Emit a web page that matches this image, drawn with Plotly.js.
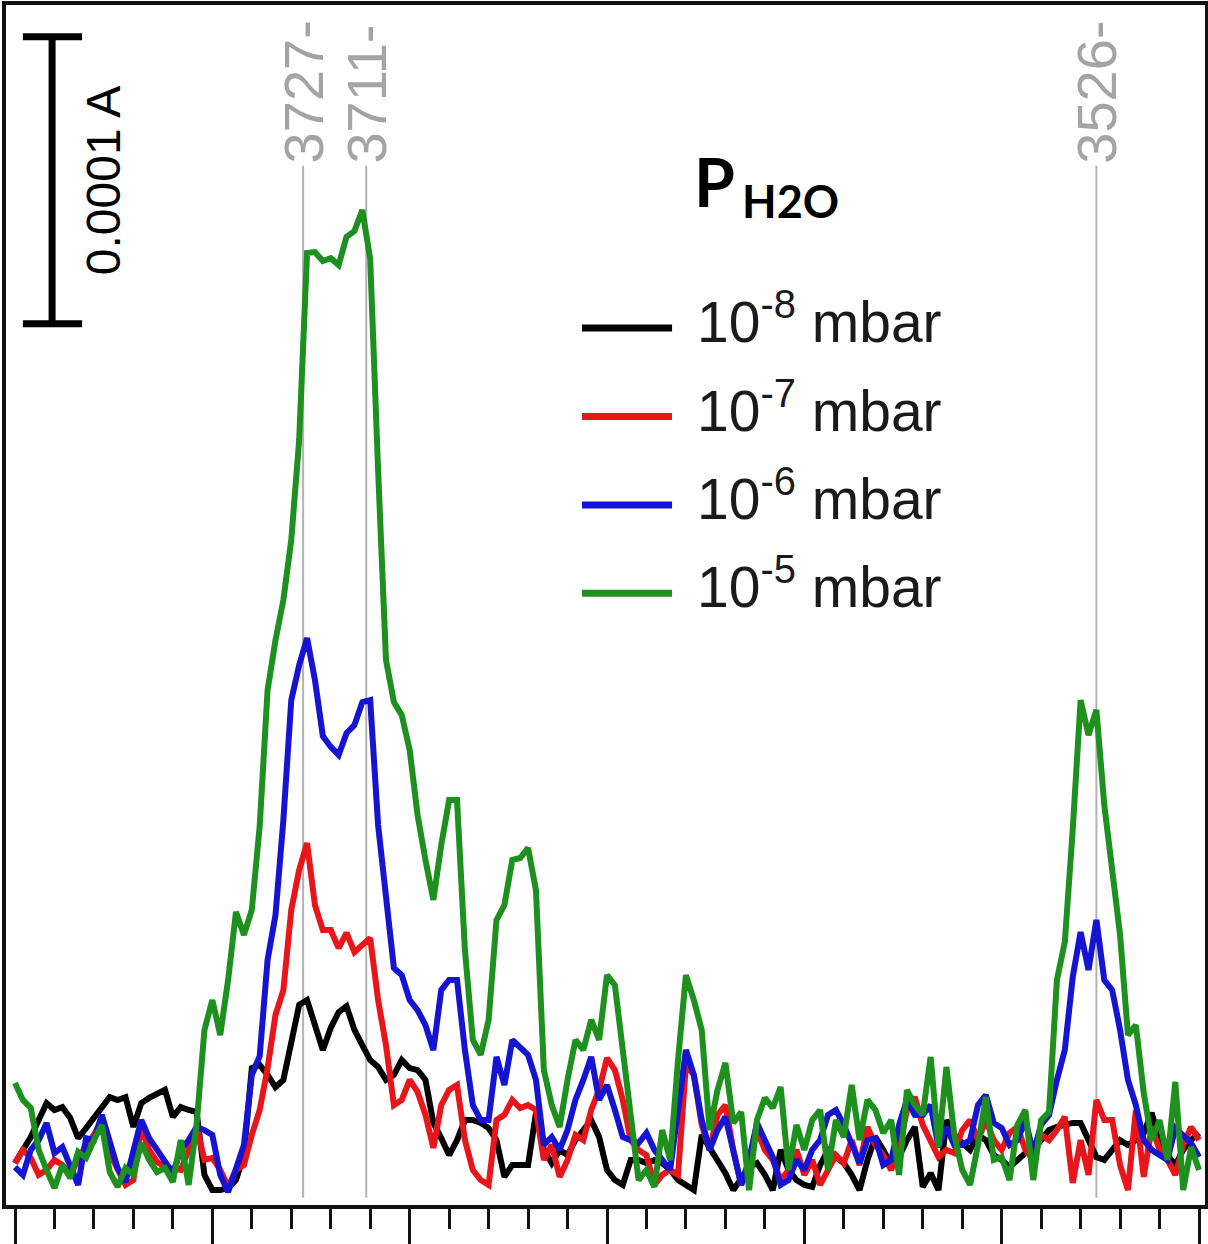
<!DOCTYPE html>
<html><head><meta charset="utf-8">
<script src="https://cdn.plot.ly/plotly-3.0.1.min.js"></script>
<style>html,body{margin:0;padding:0;background:#fff}#chart{width:1208px;height:1244px}</style>
</head><body><div id="chart"></div>
<script>
// Wavenumber (cm-1), decreasing left to right
const wavenumber = [3800,3798,3796,3794,3792,3790,3788,3786,3784,3782,
3780,3778,3776,3774,3772,3770,3768,3766,3764,3762,
3760,3758,3756,3754,3752,3750,3748,3746,3744,3742,
3740,3738,3736,3734,3732,3730,3728,3726,3724,3722,
3720,3718,3716,3714,3712,3710,3708,3706,3704,3702,
3700,3698,3696,3694,3692,3690,3688,3686,3684,3682,
3680,3678,3676,3674,3672,3670,3668,3666,3664,3662,
3660,3658,3656,3654,3652,3650,3648,3646,3644,3642,
3640,3638,3636,3634,3632,3630,3628,3626,3624,3622,
3620,3618,3616,3614,3612,3610,3608,3606,3604,3602,
3600,3598,3596,3594,3592,3590,3588,3586,3584,3582,
3580,3578,3576,3574,3572,3570,3568,3566,3564,3562,
3560,3558,3556,3554,3552,3550,3548,3546,3544,3542,
3540,3538,3536,3534,3532,3530,3528,3526,3524,3522,
3520,3518,3516,3514,3512,3510,3508,3506,3504,3502,
3500];

// Absorbance in units of 1e-6 A (scale bar = 100 units = 0.0001 A)
const abs_1e8 = [14.6,19.2,23.7,29.6,35.5,33.1,34.1,30.3,23.3,26.8,
30.3,33.8,37.6,36.6,37.6,27.2,35.5,37.3,39.0,40.1,
30.7,34.1,33.1,32.4,10.5,5.2,5.2,5.9,8.7,17.4,
47.7,48.8,45.3,41.1,43.6,57.5,69.7,71.4,62.7,54.0,
61.7,67.2,69.3,61.0,55.7,50.5,48.1,43.6,45.3,50.5,
47.7,47.0,43.6,28.6,23.3,17.4,22.6,29.6,29.6,28.6,
26.8,22.6,9.8,13.9,13.9,13.9,32.1,19.2,14.6,19.2,
17.4,22.6,26.1,29.6,23.7,12.2,8.7,7.0,15.7,15.7,
14.6,15.7,14.6,12.2,8.7,7.0,5.2,24.4,19.9,15.7,
11.1,5.2,9.4,13.2,14.6,10.5,5.2,19.2,12.2,8.7,
7.0,6.3,13.9,19.2,16.7,14.6,10.5,5.2,15.7,23.7,
19.2,13.9,16.7,22.6,27.2,6.3,11.1,5.2,29.6,24.4,
21.6,19.2,24.4,22.6,17.4,15.7,13.2,15.7,18.1,19.2,
22.6,26.1,27.2,27.9,28.6,28.6,22.6,16.7,15.7,19.2,
22.6,20.9,22.6,25.1,32.1,22.6,17.4,13.9,19.2,22.6,
25.1];

const abs_1e7 = [14.6,19.2,16.4,10.5,12.2,15.7,13.9,10.5,15.7,20.9,
24.4,29.6,18.1,12.2,7.0,8.7,27.2,19.2,15.0,13.2,
12.9,12.2,19.2,27.2,15.7,16.4,12.2,6.3,12.2,13.9,
24.4,33.1,47.7,66.2,74.9,102.8,116.7,126.1,104.5,95.8,
95.8,89.5,94.8,88.1,90.6,93.0,71.4,55.7,34.8,36.6,
43.6,39.4,31.4,19.9,34.8,40.1,41.8,22.6,12.2,8.7,
7.0,29.6,31.4,36.6,33.8,34.8,33.1,15.7,20.9,9.8,
15.7,24.4,22.6,33.1,40.1,51.2,47.0,36.6,22.6,19.2,
17.4,7.0,10.5,12.2,10.5,48.8,45.3,27.9,19.2,31.4,
34.8,19.2,7.0,13.9,26.1,19.2,15.7,8.7,12.2,19.2,
10.5,15.7,7.0,12.2,17.4,14.6,22.6,13.9,27.2,20.9,
17.4,12.2,19.2,33.1,37.6,27.9,22.6,16.7,19.2,18.1,
26.1,29.6,22.6,29.6,22.6,19.2,25.1,27.2,19.2,15.7,
24.4,22.6,26.1,30.7,7.7,22.6,10.5,36.6,29.6,29.6,
13.9,5.2,33.1,9.8,27.2,19.2,15.7,10.5,20.9,27.2,
22.6];

const abs_1e6 = [13.2,10.5,19.2,22.6,28.6,18.1,20.2,13.9,7.0,23.3,
22.6,31.4,22.6,12.9,8.0,19.2,29.6,23.3,19.2,15.0,
11.1,19.2,22.6,27.2,26.1,24.4,10.5,4.5,12.2,20.9,
45.3,51.9,85.4,101.0,134.1,175.9,188.1,197.5,182.9,163.4,
159.6,156.8,164.4,167.2,175.2,175.9,132.4,106.3,82.6,80.1,
71.4,67.9,62.7,54.0,74.9,78.4,78.4,54.0,34.8,29.6,
29.6,51.6,41.8,57.5,54.7,52.3,43.6,20.9,23.7,19.2,
26.1,36.6,43.6,51.6,36.6,41.8,33.1,23.7,22.6,21.6,
25.1,19.2,15.7,12.2,33.1,54.0,45.3,29.6,19.2,26.1,
30.7,19.2,7.0,15.7,28.6,22.6,16.7,7.0,8.7,15.7,
12.2,19.2,22.6,31.4,33.1,27.9,20.9,14.6,22.6,23.3,
13.9,15.7,27.9,36.6,31.4,31.4,34.8,20.2,27.2,20.9,
20.9,22.6,34.8,38.3,28.6,26.8,20.9,22.6,29.6,18.1,
27.9,31.4,43.6,54.0,79.4,95.1,81.9,99.3,78.4,74.9,
61.0,43.6,34.8,22.6,19.2,17.4,15.7,26.8,24.4,21.6,
16.7];

const abs_1e5 = [42.5,36.6,33.8,19.2,12.2,5.9,13.9,9.4,18.5,16.4,
22.6,27.9,11.5,6.3,12.9,10.5,21.6,15.7,11.5,12.9,
8.0,22.6,7.0,27.9,61.0,71.4,59.2,78.4,102.1,94.1,
102.8,132.0,179.4,196.8,210.8,231.7,266.5,331.7,332.0,328.9,
329.9,327.5,337.3,339.3,346.7,329.6,256.1,189.9,175.2,170.7,
158.5,135.9,120.2,106.3,125.4,141.1,141.1,88.8,57.5,52.3,
64.5,99.3,104.5,120.2,120.9,124.4,109.7,47.0,34.8,27.2,
43.6,57.5,54.0,64.5,57.5,80.1,76.6,54.0,29.6,8.7,
12.2,6.3,26.1,15.7,50.5,80.1,71.4,61.0,26.1,40.1,
49.5,28.6,32.4,5.2,29.6,37.3,33.8,41.1,12.2,27.9,
19.2,29.6,33.1,12.2,29.6,23.7,41.8,22.6,36.6,33.1,
25.1,29.6,10.5,40.1,34.8,31.4,51.6,20.2,48.1,24.4,
12.2,7.0,20.9,37.6,15.7,16.7,8.7,27.9,33.1,8.7,
29.6,32.4,78.4,91.6,130.7,175.9,163.7,172.5,139.4,118.5,
94.1,59.2,62.7,39.0,22.6,29.6,15.7,42.9,5.2,20.2,
12.2];

const pressureExponents = [-8, -7, -6, -5];
const seriesLabels = pressureExponents.map(e => '10<sup>' + e + '</sup> mbar');
const seriesColors = ['#000000', '#e8161b', '#1414d2', '#1d901d'];
const seriesValues = [abs_1e8, abs_1e7, abs_1e6, abs_1e5];

const bandPositions = [3727, 3711, 3526];
const bandLabels = bandPositions.map(b => b + '-');
const scaleBarValue = 100;          // 100 x 1e-6 A = 0.0001 A
const scaleBarLabel = '0.0001 A';

const traces = seriesValues.map((vals, i) => ({
  type: 'scatter', mode: 'lines',
  x: wavenumber, y: vals,
  name: seriesLabels[i],
  line: {color: seriesColors[i], width: 6},
  showlegend: false, hoverinfo: 'skip'
}));

const shapes = [];
const annotations = [];

// band marker lines & labels
bandPositions.forEach((b, i) => {
  shapes.push({type: 'line', xref: 'x', yref: 'paper', x0: b, x1: b, y0: 0.006, y1: 0.866,
    line: {color: '#b3b3b3', width: 2}, layer: 'below'});
  annotations.push({xref: 'x', yref: 'paper', x: b, y: 0.866, xanchor: 'center', yanchor: 'bottom',
    text: bandLabels[i], textangle: -90, showarrow: false,
    font: {family: 'Liberation Sans, Arial, sans-serif', size: 56, color: '#a4a4a4'}});
});

// scale bar
const sbX = 3790.6, sbY0 = 307, sbCapL = 3798, sbCapR = 3783;
shapes.push({type: 'line', xref: 'x', yref: 'y', x0: sbX, x1: sbX, y0: sbY0, y1: sbY0 + scaleBarValue, line: {color: '#000', width: 7}});
shapes.push({type: 'line', xref: 'x', yref: 'y', x0: sbCapL, x1: sbCapR, y0: sbY0, y1: sbY0, line: {color: '#000', width: 7}});
shapes.push({type: 'line', xref: 'x', yref: 'y', x0: sbCapL, x1: sbCapR, y0: sbY0 + scaleBarValue, y1: sbY0 + scaleBarValue, line: {color: '#000', width: 7}});
annotations.push({xref: 'x', yref: 'y', x: 3777.5, y: sbY0 + scaleBarValue / 2, xanchor: 'center', yanchor: 'middle',
  text: scaleBarLabel, textangle: -90, showarrow: false,
  font: {family: 'Liberation Sans, Arial, sans-serif', size: 48, color: '#000'}});

// legend title P_H2O
annotations.push({xref: 'paper', yref: 'paper', x: 0.5722, y: 0.8529, xanchor: 'left', yanchor: 'middle',
  text: '<b>P</b>', showarrow: false, font: {family: 'Lato, Open Sans, sans-serif', size: 66, color: '#000'}});
annotations.push({xref: 'paper', yref: 'paper', x: 0.6122, y: 0.8367, xanchor: 'left', yanchor: 'middle',
  text: '<b>H2O</b>', showarrow: false, font: {family: 'Lato, Open Sans, sans-serif', size: 45, color: '#000'}});

// manual legend
const legTop = 0.7308, legStep = 0.0737;
seriesLabels.forEach((lab, i) => {
  const yy = legTop - i * legStep;
  shapes.push({type: 'line', xref: 'paper', yref: 'paper', x0: 0.4804, x1: 0.5555, y0: yy, y1: yy,
    line: {color: seriesColors[i], width: 7}});
  annotations.push({xref: 'paper', yref: 'paper', x: 0.5750, y: yy + 0.0083, xanchor: 'left', yanchor: 'middle',
    text: lab, showarrow: false, font: {family: 'Liberation Sans, Arial, sans-serif', size: 57, color: '#1a1a1a'}});
});

const layout = {
  width: 1208, height: 1244,
  margin: {l: 6, r: 3, t: 5, b: 39, pad: 0},
  paper_bgcolor: '#ffffff', plot_bgcolor: '#ffffff',
  showlegend: false,
  xaxis: {
    range: [3802.28, 3498.48], showgrid: false, zeroline: false,
    showline: true, linewidth: 4, linecolor: '#111', mirror: true,
    ticks: 'outside', ticklen: 37, tickwidth: 3, tickcolor: '#111',
    tick0: 3500, dtick: 50, showticklabels: false,
    minor: {ticks: 'outside', ticklen: 20, tickwidth: 3, tickcolor: '#111', dtick: 10, showgrid: false}
  },
  yaxis: {
    range: [0, 418.1], showgrid: false, zeroline: false,
    showline: true, linewidth: 4, linecolor: '#111', mirror: true,
    ticks: '', showticklabels: false
  },
  shapes: shapes,
  annotations: annotations
};

Plotly.newPlot('chart', traces, layout, {displayModeBar: false, staticPlot: true});
</script>
</body></html>
